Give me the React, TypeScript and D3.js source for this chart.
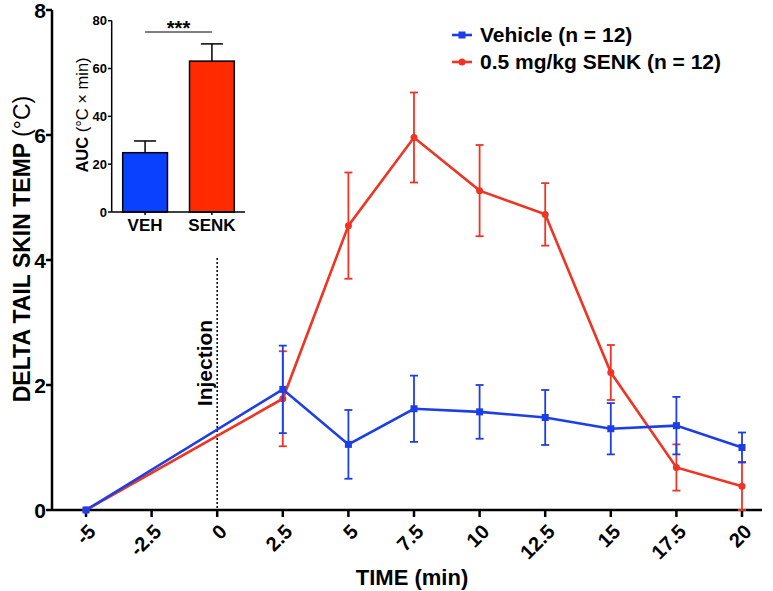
import React from "react";
import * as d3 from "d3";

const times = [-5, -2.5, 0, 2.5, 5, 7.5, 10, 12.5, 15, 17.5, 20];
const tickLabels = ["-5", "-2.5", "0", "2.5", "5", "7.5", "10", "12.5", "15", "17.5", "20"];
const sampleTimes = [-5, 2.5, 5, 7.5, 10, 12.5, 15, 17.5, 20];
const vehicleMean = [0, 1.93, 1.05, 1.62, 1.57, 1.48, 1.3, 1.35, 1.0];
const vehicleSem = [0, 0.7, 0.55, 0.53, 0.43, 0.44, 0.41, 0.46, 0.24];
const senkMean = [0, 1.78, 4.55, 5.96, 5.11, 4.73, 2.2, 0.68, 0.38];
const senkSem = [0, 0.76, 0.85, 0.72, 0.73, 0.5, 0.44, 0.37, 0.39];
const yTicks = [0, 2, 4, 6, 8];

const aucGroups = ["VEH", "SENK"];
const aucMean = [24.8, 63.1];
const aucSem = [4.9, 7.2];
const aucTicks = [0, 20, 40, 60, 80];

const BLUE = "#1c3ee8";
const RED = "#ee3424";
const BLUE_BAR = "#0a40ff";
const RED_BAR = "#ff2a00";
const FONT = "'Liberation Sans', Arial, Helvetica, sans-serif";

export default function App() {
  const x = d3.scaleLinear().domain([-5, 20]).range([86, 742]);
  const y = d3.scaleLinear().domain([0, 8]).range([510, 10]);
  const line = d3
    .line<number>()
    .x((_, i) => x(sampleTimes[i]))
    .y((d) => y(d));

  const ix = d3.scaleBand<string>().domain(aucGroups).range([112, 245]).paddingInner(0.33).paddingOuter(0.16);
  const iy = d3.scaleLinear().domain([0, 80]).range([212, 20.7]);

  const series = [
    { name: "senk", mean: senkMean, sem: senkSem, color: RED, marker: "circle" },
    { name: "veh", mean: vehicleMean, sem: vehicleSem, color: BLUE, marker: "square" },
  ];

  return (
    <svg width={773} height={591} style={{ position: "absolute", left: 0, top: 0, display: "block", background: "#fff" }} fontFamily={FONT}>
      {/* main axes */}
      <line x1={52} x2={52} y1={y(8)} y2={y(0)} stroke="#000" strokeWidth={2.5} />
      <line x1={52} x2={762} y1={y(0)} y2={y(0)} stroke="#000" strokeWidth={2.5} />
      {yTicks.map((t) => (
        <g key={"yt" + t}>
          <line x1={46} x2={52} y1={y(t)} y2={y(t)} stroke="#000" strokeWidth={2.5} />
          <text x={46} y={y(t)} dy="0.37em" textAnchor="end" fontSize={21} fontWeight="bold">
            {t}
          </text>
        </g>
      ))}
      {times.map((t, i) => (
        <g key={"xt" + t}>
          <line x1={x(t)} x2={x(t)} y1={y(0)} y2={y(0) + 7} stroke="#000" strokeWidth={2.5} />
          <text
            transform={`translate(${x(t) + 1},${y(0) + 13}) rotate(-45)`}
            textAnchor="end"
            dy="0.7em"
            fontSize={20}
            fontWeight="bold"
          >
            {tickLabels[i]}
          </text>
        </g>
      ))}
      <text x={412} y={585} textAnchor="middle" fontSize={22} fontWeight="bold">
        TIME (min)
      </text>
      <text transform={`translate(30,${249}) rotate(-90)`} textAnchor="middle" fontSize={23}>
        <tspan fontWeight="bold">DELTA TAIL SKIN TEMP </tspan>
        <tspan>(°C)</tspan>
      </text>

      {/* injection marker */}
      <line x1={x(0)} x2={x(0)} y1={258} y2={y(0)} stroke="#000" strokeWidth={1.5} strokeDasharray="2,2" />
      <text transform={`translate(212,${363}) rotate(-90)`} textAnchor="middle" fontSize={21} fontWeight="bold">
        Injection
      </text>

      {/* series */}
      {series.map((s) => (
        <g key={s.name}>
          <path d={line(s.mean) || ""} fill="none" stroke={s.color} strokeWidth={2.6} />
          {s.mean.map((m, i) =>
            s.sem[i] > 0 ? (
              <g key={i} stroke={s.color} strokeWidth={1.8}>
                <line x1={x(sampleTimes[i])} x2={x(sampleTimes[i])} y1={y(m + s.sem[i])} y2={y(Math.max(0, m - s.sem[i]))} />
                <line x1={x(sampleTimes[i]) - 4} x2={x(sampleTimes[i]) + 4} y1={y(m + s.sem[i])} y2={y(m + s.sem[i])} />
                <line
                  x1={x(sampleTimes[i]) - 4}
                  x2={x(sampleTimes[i]) + 4}
                  y1={y(Math.max(0, m - s.sem[i]))}
                  y2={y(Math.max(0, m - s.sem[i]))}
                />
              </g>
            ) : null
          )}
          {s.mean.map((m, i) =>
            s.marker === "square" ? (
              <rect key={"m" + i} x={x(sampleTimes[i]) - 3.5} y={y(m) - 3.5} width={7} height={7} fill={s.color} />
            ) : (
              <circle key={"m" + i} cx={x(sampleTimes[i])} cy={y(m)} r={3.5} fill={s.color} />
            )
          )}
        </g>
      ))}

      {/* legend */}
      <g>
        <line x1={452} x2={472} y1={35} y2={35} stroke={BLUE} strokeWidth={2.6} />
        <rect x={458.5} y={31.5} width={7} height={7} fill={BLUE} />
        <text x={480} y={42} fontSize={21} fontWeight="bold">
          Vehicle (n = 12)
        </text>
        <line x1={452} x2={472} y1={62} y2={62} stroke={RED} strokeWidth={2.6} />
        <circle cx={462} cy={62} r={3.5} fill={RED} />
        <text x={480} y={69} fontSize={21} fontWeight="bold">
          0.5 mg/kg SENK (n = 12)
        </text>
      </g>

      {/* inset */}
      <g>
        {aucGroups.map((g, i) => {
          const cx = (ix(g) || 0) + ix.bandwidth() / 2;
          return (
            <g key={g}>
              <line x1={cx} x2={cx} y1={iy(aucMean[i])} y2={iy(aucMean[i] + aucSem[i])} stroke="#000" strokeWidth={1.5} />
              <line x1={cx - 11} x2={cx + 11} y1={iy(aucMean[i] + aucSem[i])} y2={iy(aucMean[i] + aucSem[i])} stroke="#000" strokeWidth={1.5} />
              <rect
                x={ix(g)}
                y={iy(aucMean[i])}
                width={ix.bandwidth()}
                height={iy(0) - iy(aucMean[i])}
                fill={i === 0 ? BLUE_BAR : RED_BAR}
                stroke="#000"
                strokeWidth={1.5}
              />
              <line x1={cx} x2={cx} y1={iy(0)} y2={iy(0) + 3} stroke="#000" strokeWidth={1.5} />
              <text x={cx} y={231} textAnchor="middle" fontSize={17} fontWeight="bold">
                {g}
              </text>
            </g>
          );
        })}
        <line x1={111.7} x2={111.7} y1={iy(80)} y2={iy(0)} stroke="#000" strokeWidth={1.5} />
        <line x1={111.7} x2={245} y1={iy(0)} y2={iy(0)} stroke="#000" strokeWidth={1.5} />
        {aucTicks.map((t) => (
          <g key={"it" + t}>
            <line x1={108} x2={111.7} y1={iy(t)} y2={iy(t)} stroke="#000" strokeWidth={1.5} />
            <text x={107} y={iy(t)} dy="0.36em" textAnchor="end" fontSize={13} fontWeight="bold">
              {t}
            </text>
          </g>
        ))}
        <text transform={`translate(88,115) rotate(-90)`} textAnchor="middle" fontSize={16.5}>
          <tspan fontWeight="bold">AUC</tspan>
          <tspan> (°C × min)</tspan>
        </text>
        <line x1={(ix("VEH") || 0) + ix.bandwidth() / 2} x2={(ix("SENK") || 0) + ix.bandwidth() / 2} y1={32} y2={32} stroke="#000" strokeWidth={1} />
        <text x={178.5} y={35} textAnchor="middle" fontSize={20} fontWeight="bold">
          ***
        </text>
      </g>
    </svg>
  );
}
